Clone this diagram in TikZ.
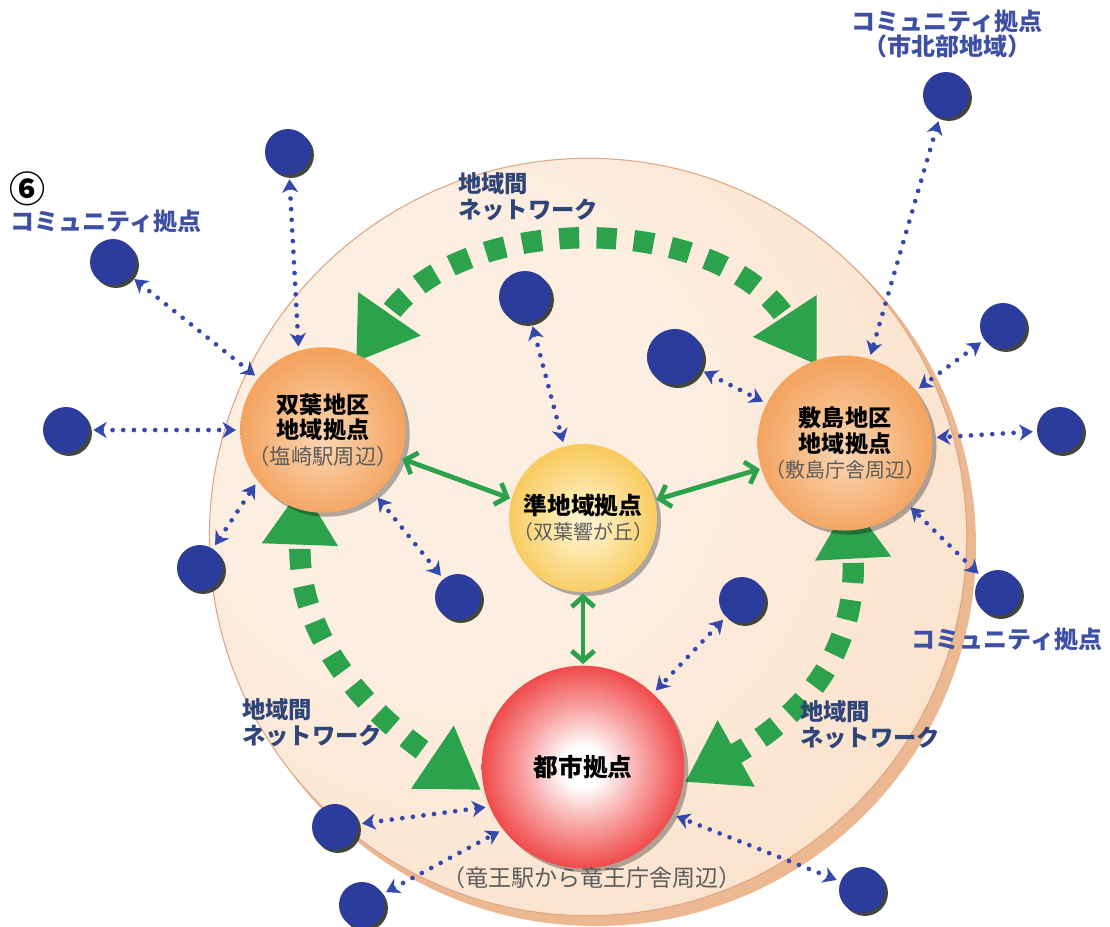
\documentclass[tikz,border=0pt]{standalone}
\usepackage{fontspec}
\usetikzlibrary{arrows.meta,shadows}
\newfontfamily\jp{Noto Sans CJK JP}
\definecolor{dotblue}{HTML}{2C3C9C}
\definecolor{dotshadow}{HTML}{2F3424}
\definecolor{arrblue}{HTML}{3548AE}
\definecolor{txtblue}{HTML}{3E50A6}
\definecolor{netblue}{HTML}{2F4577}
\definecolor{grn}{HTML}{2BA24B}
\definecolor{pgray}{HTML}{5C5C5C}
\definecolor{rimc}{HTML}{EBB892}
\definecolor{edgec}{HTML}{E0A683}
\definecolor{bgA}{HTML}{FCEEE1}
\definecolor{bgB}{HTML}{FBE1CA}
\definecolor{bgC}{HTML}{F8D4B4}
\definecolor{orA}{HTML}{FAD6B4}
\definecolor{orB}{HTML}{F7BF8C}
\definecolor{orC}{HTML}{F4A461}
\definecolor{orD}{HTML}{F08F3E}
\definecolor{orE}{HTML}{E8782C}
\definecolor{yeA}{HTML}{FFF4D6}
\definecolor{yeB}{HTML}{FDE7AA}
\definecolor{yeC}{HTML}{F9CD64}
\definecolor{yeD}{HTML}{F4B93C}
\definecolor{yeE}{HTML}{E99E28}
\definecolor{reA}{HTML}{FFFFFF}
\definecolor{reB}{HTML}{F8A0A0}
\definecolor{reC}{HTML}{F04A4A}
\definecolor{reD}{HTML}{E6262C}
\definecolor{reE}{HTML}{DC1F26}
\pgfdeclareradialshading{bigdisk}{\pgfpoint{-14bp}{10bp}}{color(0bp)=(bgA); color(16bp)=(bgA); color(34bp)=(bgB); color(50bp)=(bgC)}
\pgfdeclareradialshading{orangeball}{\pgfpoint{0bp}{-3bp}}{color(0bp)=(orA); color(12bp)=(orB); color(25bp)=(orC); color(38bp)=(orD); color(50bp)=(orE)}
\pgfdeclareradialshading{yellowball}{\pgfpoint{0bp}{-2bp}}{color(0bp)=(yeA); color(10bp)=(yeB); color(24bp)=(yeC); color(38bp)=(yeD); color(50bp)=(yeE)}
\pgfdeclareradialshading{redball}{\pgfpoint{0bp}{0bp}}{color(0bp)=(reA); color(5bp)=(reA); color(15bp)=(reB); color(25bp)=(reC); color(35bp)=(reD); color(50bp)=(reE)}
\pgfdeclarelayer{background}
\pgfsetlayers{background,main}
\begin{document}
\begin{tikzpicture}[x=0.75pt, y=-0.75pt, font=\jp,
  dot/.style={circle, fill=dotblue, inner sep=0pt, minimum size=34.5pt,
    drop shadow={shadow xshift=2.2pt, shadow yshift=-2.2pt, fill=dotshadow, opacity=0.9}},
  sphere/.style={circle, inner sep=0pt, align=center, shade,
    drop shadow={shadow xshift=3pt, shadow yshift=-3pt, fill=black, opacity=0.3}},
  bluearr/.style={draw=arrblue, line width=3.5pt, dash pattern=on 0pt off 8pt, line cap=round,
    <->, >={Stealth[length=10pt,width=12pt,inset=3pt]}, shorten <=3pt, shorten >=3pt},
  grnarr/.style={draw=grn, line width=3.6pt, <->, >={Straight Barb[length=7.5pt,width=17pt]},
    shorten <=1pt, shorten >=1pt},
  netarc/.style={draw=grn, line width=16pt, dash pattern=on 15pt off 13pt, dash phase=22pt,
    <->, >={Triangle[length=44pt,width=54pt]}},
  bluelbl/.style={text=txtblue, font=\jp\bfseries\fontsize{18}{18.75}\selectfont, inner sep=0pt, align=center},
  netlbl/.style={text=netblue, font=\jp\bfseries\fontsize{17.5}{19.5}\selectfont, align=left, inner sep=0pt, anchor=west},
  sphtxt/.style={font=\jp\fontsize{17.3}{19}\selectfont}
]
\useasboundingbox (0,0) rectangle (1110,926);

\begin{pgfonlayer}{background}
  \fill[white] (0,0) rectangle (1110,926);
  \fill[rimc] (596,546) circle (285pt);
  \shade[shading=bigdisk, draw=edgec, line width=0.8pt] (588,537) circle (284pt);
\end{pgfonlayer}

% spheres
\node[sphere, shading=orangeball, minimum size=120pt, sphtxt] (futaba) at (323,430)
  {{\bfseries 双葉地区}\\{\bfseries 地域拠点}\\{\color{pgray}\fontsize{16}{19}\selectfont （塩崎駅周辺）}};
\node[sphere, shading=orangeball, minimum size=120pt, sphtxt] (shiki) at (845,443)
  {{\bfseries 敷島地区}\\{\bfseries 地域拠点}\\{\color{pgray}\fontsize{15}{19}\selectfont （敷島庁舎周辺）}};
\node[sphere, shading=yellowball, minimum size=111pt, sphtxt] (jun) at (583,518)
  {{\fontsize{17.8}{19}\selectfont\bfseries 準地域拠点}\\{\color{pgray}\fontsize{15}{19}\selectfont （双葉響が丘）}};
\node[sphere, shading=redball, minimum size=152pt, font=\jp\bfseries\fontsize{18.5}{20}\selectfont] (toshi) at (583,767) {都市拠点};
\node[text=pgray, font=\jp\fontsize{17.3}{18}\selectfont, inner sep=0pt] (toshisub) at (592,878) {（竜王駅から竜王庁舎周辺）};

% community dots
\node[dot] (d1) at (288,152) {};
\node[dot] (d2) at (113,262) {};
\node[dot] (d3) at (66,430) {};
\node[dot] (d4) at (200,568) {};
\node[dot] (d5) at (458,597) {};
\node[dot, minimum size=39pt] (d6) at (525,297) {};
\node[dot, minimum size=42pt] (d7) at (675,357) {};
\node[dot] (d8) at (946,95) {};
\node[dot] (d9) at (1003,326) {};
\node[dot] (d10) at (1060,430) {};
\node[dot] (d11) at (998,593) {};
\node[dot] (d12) at (742,600) {};
\node[dot] (d13) at (335,827) {};
\node[dot] (d14) at (362,905) {};
\node[dot] (d15) at (862,890) {};

% network arcs
\coordinate (ta) at (356,362);
\coordinate (tb) at (817,365);
\coordinate (la) at (302,486);
\coordinate (lb) at (481,790);
\coordinate (ra) at (850,500);
\coordinate (rb) at (685,782);
\begin{pgfonlayer}{background}
  \draw[netarc] (ta) .. controls (460,212) and (715,210) .. (tb);
  \draw[netarc] (la) .. controls (296,650) and (385,725) .. (lb);
  \draw[netarc] (ra) .. controls (858,650) and (805,715) .. (rb);
\end{pgfonlayer}

% green arrows
\draw[grnarr] (futaba.-20) -- (jun.165);
\draw[grnarr] (shiki.197) -- (jun.14);
\draw[grnarr] (jun.south) -- (toshi.north);

% blue dotted arrows
\draw[bluearr] (d1) -- (futaba.107);
\draw[bluearr] (d2) -- (futaba);
\draw[bluearr] (d3) -- (futaba);
\draw[bluearr] (d4) -- (futaba.218);
\draw[bluearr] (d5) -- (futaba);
\draw[bluearr] (d6) -- (jun);
\draw[bluearr] (d7) -- (shiki);
\draw[bluearr] (d8) -- (shiki);
\draw[bluearr] (d9) -- (shiki);
\draw[bluearr] (d10) -- (shiki);
\draw[bluearr] (d11) -- (shiki);
\draw[bluearr] (d12) -- (toshi);
\draw[bluearr] (d13) -- (toshi.203);
\draw[bluearr] (d14) -- (toshi.218);
\draw[bluearr] (d15) -- (toshi.-28);

% labels
\node[font=\jp\bfseries\fontsize{27}{28}\selectfont, inner sep=0pt] (six) at (27,189) {⑥};
\node[bluelbl] (c1) at (106,221) {コミュニティ拠点};
\node[bluelbl] (c2) at (947,34) {コミュニティ拠点\\（市北部地域）};
\node[bluelbl] (c3) at (1007,639) {コミュニティ拠点};
\node[netlbl] (n1) at (458,197) {地域間\\ネットワーク};
\node[netlbl] (n2) at (242,723) {地域間\\ネットワーク};
\node[netlbl] (n3) at (800,725) {地域間\\ネットワーク};
\end{tikzpicture}
\end{document}
